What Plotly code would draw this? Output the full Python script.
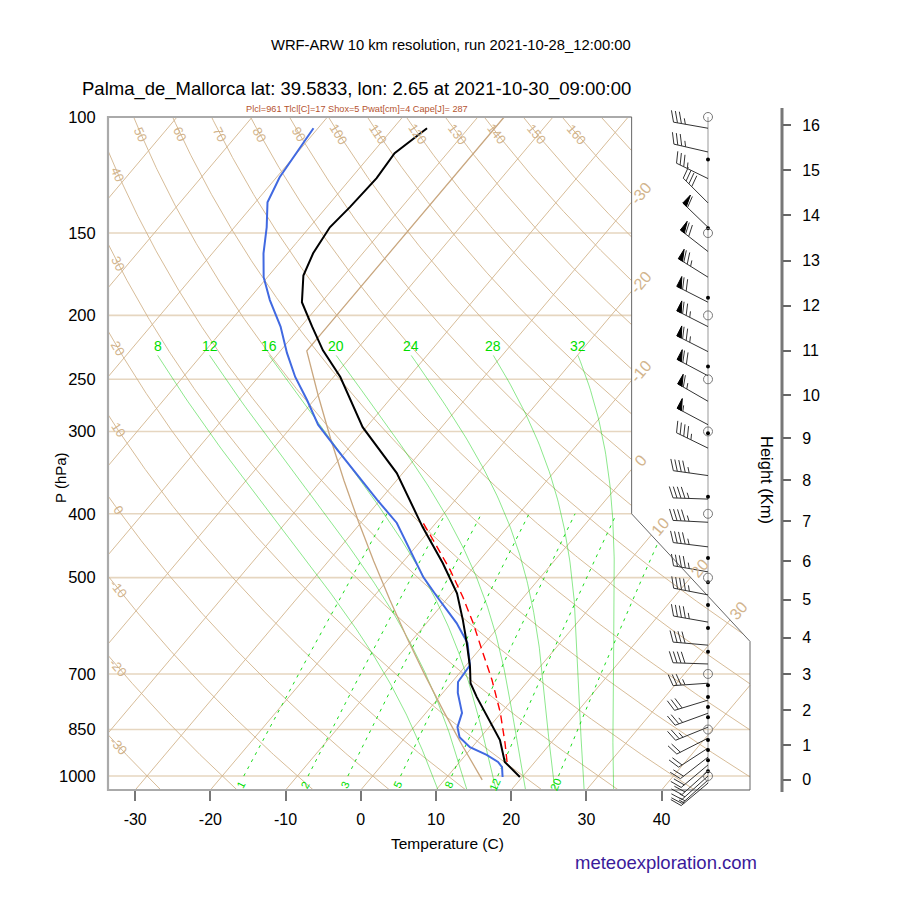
import numpy as np
import plotly.graph_objects as go

# ---------------- sounding values ----------------
t_pres = [104, 113.5, 123.8, 137, 147, 161, 174, 191, 208, 226, 248, 295.5, 347, 419, 475, 528,
          580, 628.5, 683, 723, 759, 802, 843, 882, 952, 969, 1003.5]
t_temp = [-65.5, -67.0, -66.6, -66.9, -67.3, -66.6, -65.4, -62.6, -58.5, -54.4, -49.1, -40.5, -30.8,
          -21.3, -14.6, -9.3, -5.5, -2.4, 0.7, 2.6, 5.0, 7.9, 10.5, 12.9, 16.0, 17.2, 19.7]

td_pres = [104, 109.6, 123.4, 134.7, 147, 161, 175, 189.6, 208, 228, 248, 269, 293, 320, 343, 381,
           413, 454, 499, 535, 586, 628.5, 679, 720, 748, 802, 843, 873, 904, 929, 952, 969, 1003.5]
td_temp = [-80.6, -80.3, -79.6, -78.4, -75.7, -73.2, -70.5, -67.1, -62.7, -58.9, -55.1, -50.9, -46.7,
           -41.3, -37.0, -30.4, -25.2, -20.4, -15.6, -11.5, -6.0, -2.3, 0.5, 0.8, 2.0, 4.8, 5.8, 7.2,
           9.7, 12.8, 15.1, 16.2, 17.4]

parcel_pres = [952, 891, 802, 715, 644, 586, 535, 487, 438, 413]
parcel_temp = [16.3, 13.9, 9.9, 5.1, 0.4, -3.8, -8.1, -12.8, -18.5, -21.7]

wind_pres = [104, 113, 124, 135, 147, 160, 175, 191, 208, 227, 247, 270, 293, 318, 350, 380, 412,
             449, 490, 531, 584, 633, 676, 723, 767, 803, 843, 876, 907, 936, 962, 983, 1000, 1014, 1025]
wind_spd = [35, 35, 35, 40, 60, 70, 75, 70, 75, 75, 70, 65, 55, 45, 45, 45, 45, 45, 45, 45, 45, 40,
            40, 35, 30, 25, 25, 20, 20, 20, 20, 20, 15, 15, 15]
wind_dir = [280, 283, 296, 315, 314, 308, 302, 297, 297, 297, 298, 300, 298, 296, 278, 272, 273, 277,
            280, 281, 280, 275, 272, 266, 253, 250, 248, 243, 237, 232, 230, 228, 228, 228, 230]
dot_pres = [116, 147.5, 188, 239, 302, 377, 467, 508, 550, 596, 648, 728, 759, 786, 814, 882, 913, 946, 983]
circle_pres = [100, 150, 200, 250, 300, 400, 500, 700, 850, 1000]

# ---------------- background definitions ----------------
isobar_levels = [100, 150, 200, 250, 300, 400, 500, 700, 850, 1000]
isotherm_levels = list(range(-110, 50, 10))
isotherm_label_levels = [-30, -20, -10, 0, 10, 20, 30]
dry_adiabat_levels = list(range(-30, 180, 10))
dry_left_labels = list(range(-30, 50, 10))
dry_top_labels = list(range(50, 170, 10))
moist_adiabat_levels = [8, 12, 16, 20, 24, 28, 32]
mix_ratio_levels = [1, 2, 3, 5, 8, 12, 20]
temp_ticks = [-30, -20, -10, 0, 10, 20, 30, 40]

# ICAO standard atmosphere table
std_z_km = list(range(0, 17))
std_p = [1013.25, 898.75, 794.95, 701.05, 616.40, 540.19, 471.83, 410.63, 355.99, 307.42, 264.36,
         226.33, 193.30, 165.10, 141.01, 120.44, 102.87]
std_t = [15.0, 8.5, 2.0, -4.5, -11.0, -17.5, -24.0, -30.5, -37.0, -43.5, -50.0, -56.5, -56.5,
         -56.5, -56.5, -56.5, -56.5]

info_text = "Plcl=961 Tlcl[C]=17 Shox=5 Pwat[cm]=4 Cape[J]= 287"
title_top = "WRF-ARW 10 km resolution, run 2021-10-28_12:00:00"
title_main = "Palma_de_Mallorca lat: 39.5833, lon: 2.65 at 2021-10-30_09:00:00"

# ---------------- skew-T transform & geometry ----------------
KAPPA = 0.2857


def skewty(p):
    return 132.182 - 44.061 * np.log10(p)


def skewtx(t, y):
    return 0.54 * t + 0.90692 * y


FX0, FX1, FXC = -19.0, 27.1, 18.6
FY0, FY1, FYD0, FYD1 = -0.9346, 44.061, 9.0, 17.53
PX_L, PX_R, PY_T, PY_B = 108, 750, 117, 790
W = H = 900
SX = (PX_R - PX_L) / (FX1 - FX0)
SY = (PY_B - PY_T) / (FY1 - FY0)


def xu(px):
    return FX0 + (px - PX_L) / SX


def yu(py):
    return FY0 + (PY_B - py) / SY


def inside(x, y):
    e = 1e-9
    if x < FX0 - e or x > FX1 + e or y < FY0 - e or y > FY1 + e:
        return False
    if x > FXC + e:
        ylim = FYD1 + (x - FXC) * (FYD0 - FYD1) / (FX1 - FXC)
        if y > ylim + e:
            return False
    return True


def clip_line(xs, ys):
    ox, oy = [], []
    prev = None
    for i in range(len(xs)):
        x, y = float(xs[i]), float(ys[i])
        cur = inside(x, y)
        if i > 0 and cur != prev:
            ax, ay = float(xs[i - 1]), float(ys[i - 1])
            lo, hi = 0.0, 1.0
            for _ in range(40):
                m = 0.5 * (lo + hi)
                if inside(ax + (x - ax) * m, ay + (y - ay) * m) == prev:
                    lo = m
                else:
                    hi = m
            ox.append(ax + (x - ax) * lo)
            oy.append(ay + (y - ay) * lo)
            if prev:
                ox.append(None)
                oy.append(None)
        if cur:
            ox.append(x)
            oy.append(y)
        prev = cur
    ox.append(None)
    oy.append(None)
    return ox, oy


# Wobus-function saturated adiabats (classic skew-T routine)
def wobf(t):
    x = t - 20.0
    if x <= 0:
        pol = 1 + x * (-8.841660499999999e-3 + x * (1.4714143e-4 + x * (-9.671989000000001e-7 +
                       x * (-3.2607217e-8 + x * (-3.8598073e-10)))))
        return 15.130 / pol ** 4
    pol = 1 + x * (3.6182989e-03 + x * (-1.3603273e-05 + x * (4.9618922e-07 + x * (-6.1059365e-09 +
                   x * (3.9401551e-11 + x * (-1.2588129e-13 + x * (1.6688280e-16)))))))
    return 29.930 / pol ** 4 + 0.96 * x - 14.8


def satlft(thw, p):
    cta, akap = 273.16, 0.28541
    if abs(p - 1000.0) < 1e-6:
        return thw
    pwrp = (p / 1000.0) ** akap
    tone = (thw + cta) * pwrp - cta
    eone = wobf(tone) - wobf(thw)
    rate = 1.0
    ttwo, dlt = tone, 0.0
    for _ in range(60):
        ttwo = tone - eone * rate
        pt = (ttwo + cta) / pwrp - cta
        etwo = pt + wobf(ttwo) - wobf(pt) - thw
        dlt = etwo * rate
        if abs(dlt) <= 0.01:
            break
        if etwo == eone:
            break
        rate = (ttwo - tone) / (etwo - eone)
        tone, eone = ttwo, etwo
    return ttwo - dlt


def mixratio_td(w, p):
    e = w * p / (622.0 + w)
    a = np.log(e / 6.112)
    return 243.5 * a / (17.67 - a)


FONT = "Liberation Sans, Arial, Helvetica, sans-serif"
TAN = "#D2B48C"
GREEN = "#00dd00"

fig = go.Figure()
annotations = []


def add_line(xs, ys, color, width, dash=None, yaxis="y"):
    fig.add_trace(go.Scatter(x=xs, y=ys, mode="lines", yaxis=yaxis,
                             line=dict(color=color, width=width, dash=dash),
                             hoverinfo="skip", showlegend=False, connectgaps=False))


def angle_px(x, y, i):
    dxp = (x[i + 1] - x[i]) * SX
    dyp = -(y[i + 1] - y[i]) * SY
    return np.degrees(np.arctan2(dyp, dxp))


def dtext(x, y, text, size, color, angle=0, xshift=0, yshift=0):
    annotations.append(dict(x=x, y=y, xref="x", yref="y", text=text, showarrow=False,
                            xanchor="center", yanchor="middle", textangle=angle,
                            xshift=xshift, yshift=yshift,
                            font=dict(size=size, color=color, family=FONT)))


# isobars
bx, by = [], []
for p in isobar_levels:
    xs = np.linspace(FX0, FX1, 300)
    ys = np.full_like(xs, skewty(p))
    cx, cy = clip_line(xs, ys)
    bx += cx
    by += cy
add_line(bx, by, "rgba(210,180,140,0.55)", 1.6)

# isotherms
P_dense = np.logspace(np.log10(1050), 2, 320)
bx, by = [], []
for t in isotherm_levels:
    ys = skewty(P_dense)
    xs = skewtx(t, ys)
    cx, cy = clip_line(xs, ys)
    bx += cx
    by += cy
add_line(bx, by, TAN, 0.9)

kd = (FX1 - FXC) / (FYD1 - FYD0)
iso_ang = np.degrees(np.arctan2(-SY, 0.90692 * SX))
for t in isotherm_label_levels:
    yl = (FXC - 0.54 * t) / 0.90692
    if yl < FYD1:
        yl = (FXC + kd * FYD1 - 0.54 * t) / (0.90692 + kd)
    xl = skewtx(t, yl)
    dtext(xl, yl, str(t), 16, TAN, angle=iso_ang, xshift=9, yshift=9)

# dry adiabats
P_dry = np.logspace(np.log10(1050), 2, 400)
bx, by = [], []
for th in dry_adiabat_levels:
    T = (th + 273.15) * (P_dry / 1000.0) ** KAPPA - 273.15
    ys = skewty(P_dry)
    xs = skewtx(T, ys)
    cx, cy = clip_line(xs, ys)
    bx += cx
    by += cy
add_line(bx, by, TAN, 0.9)

for th in dry_left_labels + dry_top_labels:
    T = (th + 273.15) * (P_dry / 1000.0) ** KAPPA - 273.15
    ys = skewty(P_dry)
    xs = skewtx(T, ys)
    if th in dry_left_labels:
        xl = xu(118)
        yl = float(np.interp(xl, xs[::-1], ys[::-1]))
    else:
        yl = yu(134)
        xl = float(np.interp(yl, ys, xs))
    i = min(int(np.argmin(np.abs(ys - yl))), len(xs) - 2)
    dtext(xl, yl, str(th), 13, TAN, angle=angle_px(xs, ys, i) + 180.0)

# moist (saturated) adiabats
P_moist = np.concatenate([np.arange(1050.0, 230.0, -5.0), [230.0]])
bx, by = [], []
for tw in moist_adiabat_levels:
    T = np.array([satlft(float(tw), float(p)) for p in P_moist])
    ys = skewty(P_moist)
    xs = skewtx(T, ys)
    cx, cy = clip_line(xs, ys)
    bx += cx
    by += cy
    dtext(float(xs[-1]), float(ys[-1]), str(tw), 14, GREEN, yshift=9)
add_line(bx, by, "rgba(0,205,0,0.45)", 1.0)

# mixing ratio lines
P_mix = np.linspace(1000, 400, 120)
bx, by = [], []
for w in mix_ratio_levels:
    T = mixratio_td(w, P_mix)
    ys = skewty(P_mix)
    xs = skewtx(T, ys)
    cx, cy = clip_line(xs, ys)
    bx += cx
    by += cy
    dtext(float(xs[0]), float(ys[0]), str(w), 11, GREEN, angle=angle_px(xs, ys, 0),
          xshift=-3, yshift=-9)
add_line(bx, by, "rgba(0,215,0,0.9)", 1.0, dash="3px,5px")

# standard atmosphere
sa_p = np.array(std_p + [100.0])
sa_t = np.array(std_t + [-56.5])
ys = skewty(sa_p)
add_line(skewtx(sa_t, ys), ys, "#c9a77f", 1.3)

# parcel, dewpoint, temperature
ys = skewty(np.array(parcel_pres))
add_line(skewtx(np.array(parcel_temp), ys), ys, "red", 1.4, dash="8px,5px")
ys = skewty(np.array(td_pres))
add_line(skewtx(np.array(td_temp), ys), ys, "#4169E1", 2.0)
ys = skewty(np.array(t_pres))
add_line(skewtx(np.array(t_temp), ys), ys, "black", 2.0)

# frame
add_line([FXC, FX0, FX0, FX1], [FY1, FY1, FY0, FY0], "#aaaaaa", 2.2)
add_line([FXC, FXC, FX1, FX1], [FY1, FYD1, FYD0, FY0], "#666666", 1.0)

# ---------------- wind barbs ----------------
BARB_X = xu(708)
add_line([BARB_X, BARB_X], [skewty(100), skewty(max(wind_pres))], "#999999", 1.0)

L_STAFF, L_FEATH, SPACING = 35.0, 12.0, 4.0
ANG = np.radians(20)
sx, sy, fxs, fys = [], [], [], []
for p, s, d in zip(wind_pres, wind_spd, wind_dir):
    x0, y0 = BARB_X, skewty(p)
    r = np.radians(d)
    ux, uy = np.sin(r), -np.cos(r)
    nx, ny = -uy, ux
    fx = np.cos(ANG) * nx + np.sin(ANG) * ux
    fy = np.cos(ANG) * ny + np.sin(ANG) * uy

    def D(dx, dy):
        return x0 + dx / SX, y0 - dy / SY

    tx, ty = L_STAFF * ux, L_STAFF * uy
    a, b = D(0, 0), D(tx, ty)
    sx += [a[0], b[0], None]
    sy += [a[1], b[1], None]
    spd = int(5 * round(s / 5.0))
    n50, rem = divmod(spd, 50)
    n10, rem = divmod(rem, 10)
    n5 = rem // 5
    pos = 0.0
    for _ in range(n50):
        p1 = (tx - pos * ux, ty - pos * uy)
        p2 = (tx - (pos + 5) * ux, ty - (pos + 5) * uy)
        p3 = (p1[0] + 11 * nx, p1[1] + 11 * ny)
        q1, q2, q3 = D(*p1), D(*p2), D(*p3)
        fxs += [q1[0], q3[0], q2[0], q1[0], None]
        fys += [q1[1], q3[1], q2[1], q1[1], None]
        pos += 6.5
    for _ in range(n10):
        p1 = (tx - pos * ux, ty - pos * uy)
        q1, q2 = D(*p1), D(p1[0] + L_FEATH * fx, p1[1] + L_FEATH * fy)
        sx += [q1[0], q2[0], None]
        sy += [q1[1], q2[1], None]
        pos += SPACING
    if n5:
        if n50 == 0 and n10 == 0:
            pos = SPACING
        p1 = (tx - pos * ux, ty - pos * uy)
        q1, q2 = D(*p1), D(p1[0] + 0.5 * L_FEATH * fx, p1[1] + 0.5 * L_FEATH * fy)
        sx += [q1[0], q2[0], None]
        sy += [q1[1], q2[1], None]

add_line(sx, sy, "#333333", 1.0)
fig.add_trace(go.Scatter(x=fxs, y=fys, mode="lines", fill="toself", fillcolor="black",
                         line=dict(color="black", width=1), hoverinfo="skip", showlegend=False))
fig.add_trace(go.Scatter(x=[BARB_X] * len(dot_pres), y=skewty(np.array(dot_pres)), mode="markers",
                         marker=dict(color="black", size=4), hoverinfo="skip", showlegend=False))
fig.add_trace(go.Scatter(x=[BARB_X] * len(circle_pres), y=skewty(np.array(circle_pres)),
                         mode="markers",
                         marker=dict(symbol="circle-open", color="#777777", size=9, line=dict(width=1)),
                         hoverinfo="skip", showlegend=False))

# height axis line (drawn on the height axis)
HX = xu(782)
add_line([HX, HX], [yu(792), yu(108)], "#777777", 3.0, yaxis="y2")


# ---------------- texts ----------------
def ptext(px, py, text, size, color="black", angle=0):
    annotations.append(dict(x=px / W, y=1 - py / H, xref="paper", yref="paper", text=text,
                            showarrow=False, textangle=angle, xanchor="center", yanchor="middle",
                            font=dict(size=size, color=color, family=FONT)))


ptext(451, 45, title_top, 14.75)
ptext(356, 89, title_main, 18.5)
ptext(357, 109, info_text, 9.2, color="#b5532f")
ptext(60, 478, "P (hPa)", 15, angle=-90)
ptext(447, 843, "Temperature (C)", 15.5)
ptext(767, 480, "Height (Km)", 16.5, angle=90)
ptext(666, 862, "meteoexploration.com", 18.5, color="#3a1a9a")

# ---------------- axes ----------------
y_bottom = skewty(1050)
fig.update_layout(
    width=W, height=H, margin=dict(l=0, r=0, t=0, b=0, pad=0),
    paper_bgcolor="white", plot_bgcolor="white", showlegend=False, hovermode=False,
    font=dict(family=FONT, color="black"),
    annotations=annotations,
    xaxis=dict(range=[xu(0), xu(W)], domain=[0, 1], anchor="free", position=1 - PY_B / H,
               showgrid=False, zeroline=False, showline=False, automargin=False,
               tickmode="array", tickvals=[skewtx(t, y_bottom) for t in temp_ticks],
               ticktext=[str(t) for t in temp_ticks], ticks="outside", ticklen=10,
               tickwidth=1.5, tickcolor="#777777", ticklabelstandoff=5,
               tickfont=dict(size=16, family=FONT)),
    yaxis=dict(range=[yu(H), yu(0)], domain=[0, 1], anchor="free", position=PX_L / W,
               showgrid=False, zeroline=False, showline=False, automargin=False,
               tickmode="array", tickvals=[skewty(p) for p in isobar_levels],
               ticktext=[str(p) for p in isobar_levels], ticks="outside", ticklen=9,
               tickcolor="rgba(0,0,0,0)", tickfont=dict(size=16.5, family=FONT)),
    yaxis2=dict(range=[yu(H), yu(0)], overlaying="y", anchor="free", position=782 / W, side="right",
                showgrid=False, zeroline=False, showline=False, automargin=False,
                tickmode="array", tickvals=[skewty(p) for p in std_p],
                ticktext=[str(z) for z in std_z_km], ticks="outside", ticklen=8, tickwidth=2,
                tickcolor="#666666", ticklabelstandoff=8, tickfont=dict(size=16, family=FONT)),
)

fig.write_html("out.html")
